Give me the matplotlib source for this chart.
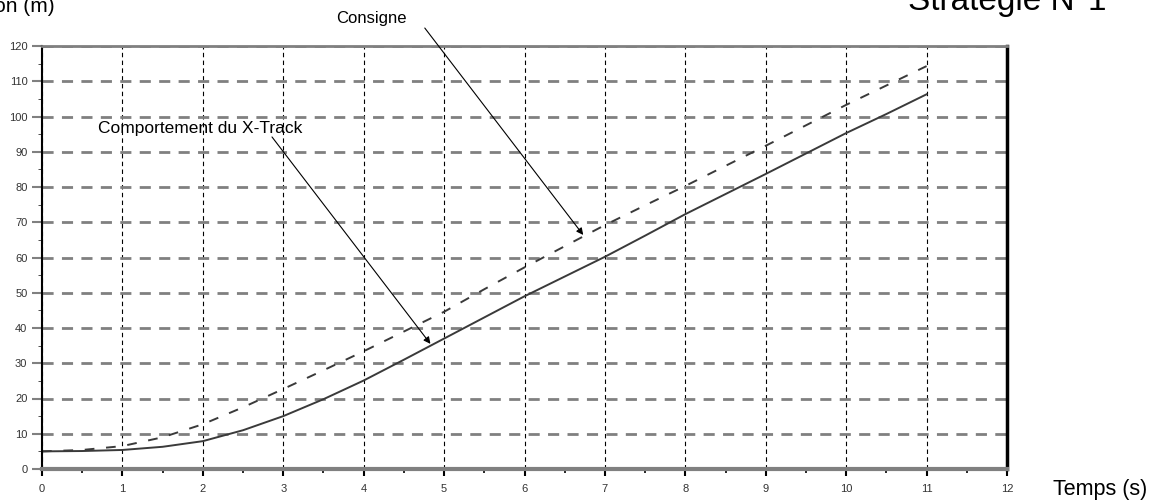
import matplotlib
matplotlib.use("Agg")
import matplotlib.pyplot as plt
from matplotlib.ticker import MultipleLocator

plt.rcParams["font.family"] = ["Liberation Sans", "DejaVu Sans"]

# temps (s)
t = [0, 0.5, 1, 1.5, 2, 2.5, 3, 3.5, 4, 4.5, 5, 5.5, 6, 6.5, 7, 7.5,
     8, 8.5, 9, 9.5, 10, 10.5, 11]
# comportement du X-Track (m)
x_track = [5.0, 5.1, 5.4, 6.3, 7.9, 11.0, 15.0, 19.8, 25.1, 31.0, 37.0,
           43.0, 49.0, 54.6, 60.2, 66.2, 72.3, 78.0, 83.7, 89.5, 95.3,
           100.7, 106.3]
# consigne (m)
consigne = [5.0, 5.4, 6.5, 9.0, 12.7, 17.5, 22.7, 28.0, 33.4, 39.0, 44.6,
            51.0, 57.2, 63.2, 69.2, 74.8, 80.3, 86.0, 91.7, 97.5, 103.3,
            108.8, 114.3]

fig = plt.figure(figsize=(11.57, 5.0), dpi=100)
ax = fig.add_axes([42 / 1157, 31 / 500, 965 / 1157, 423 / 500])

ax.plot(t, consigne, color="#3a3a3a", lw=1.4, dashes=(5, 6))
ax.plot(t, x_track, color="#3a3a3a", lw=1.4)

ax.set_xlim(0, 12)
ax.set_ylim(0, 120)
ax.xaxis.set_major_locator(MultipleLocator(1))
ax.xaxis.set_minor_locator(MultipleLocator(0.5))
ax.yaxis.set_major_locator(MultipleLocator(10))
ax.yaxis.set_minor_locator(MultipleLocator(5))

ax.yaxis.grid(True, color="#808080", lw=2.0, dashes=(4, 3))
ax.xaxis.grid(True, color="black", lw=0.8, dashes=(4, 3))
ax.set_axisbelow(True)

ax.tick_params(axis="both", which="major", labelsize=8, labelcolor="#333333",
               direction="out")
ax.tick_params(axis="y", which="major", length=7, color="#808080", width=1.5)
ax.tick_params(axis="y", which="minor", length=3, color="#333333")
ax.tick_params(axis="x", which="major", length=5, color="black", width=1.5,
               pad=6)
ax.tick_params(axis="x", which="minor", length=3, color="black", width=1.2)

ax.spines["bottom"].set_color("#808080")
ax.spines["bottom"].set_linewidth(3)
ax.spines["top"].set_color("#808080")
ax.spines["top"].set_linewidth(2)
ax.spines["right"].set_color("black")
ax.spines["right"].set_linewidth(2.5)
ax.spines["left"].set_color("black")
ax.spines["left"].set_linewidth(1.5)
ax.spines["left"].set_linestyle((0, (4, 1)))

arrow = dict(arrowstyle="-|>", color="black", lw=0.8,
             mutation_scale=10, shrinkA=0, shrinkB=0)
ax.annotate("", xy=(6.73, 66.4), xytext=(4.76, 125.1),
            arrowprops=arrow, annotation_clip=False)
ax.text(4.10, 127.9, "Consigne", fontsize=12, ha="center", va="center",
        clip_on=False)
ax.annotate("", xy=(4.83, 35.5), xytext=(2.86, 94.2), arrowprops=arrow)
ax.text(0.70, 96.7, "Comportement du X-Track", fontsize=12.5,
        ha="left", va="center")

fig.text(1053 / 1157, 1 - 490 / 500, "Temps (s)", fontsize=15.5,
         ha="left", va="center")
fig.text(1107 / 1157, 1 - 10 / 500, "Stratégie N°1", fontsize=24,
         ha="right", va="baseline")
fig.text(55 / 1157, 1 - 12 / 500, "Position (m)", fontsize=15,
         ha="right", va="baseline")

fig.savefig("out.png", dpi=100)
